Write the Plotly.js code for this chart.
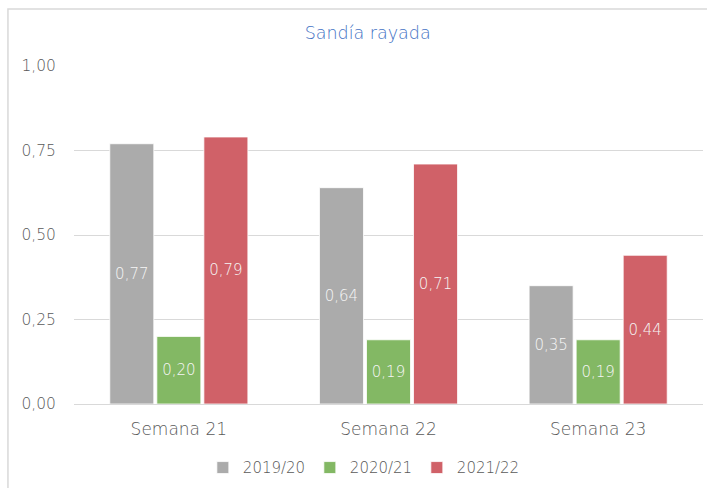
<!DOCTYPE html>
<html>
<head>
<meta charset="utf-8">
<script src="https://cdn.plot.ly/plotly-3.0.1.min.js"></script>
<style>
html,body{margin:0;padding:0;background:#fff;}
#chart{width:707px;height:488px;}
</style>
</head>
<body>
<div id="chart"></div>
<script>
const categories = ["Semana 21", "Semana 22", "Semana 23"];
const seriesNames = ["2019/20", "2020/21", "2021/22"];
const values2019 = [0.77, 0.64, 0.35];
const values2020 = [0.20, 0.19, 0.19];
const values2021 = [0.79, 0.71, 0.44];
const yTicks = [0, 0.25, 0.5, 0.75, 1.0];
const colors = ["#ABABAB", "#83B864", "#D06168"];

const FONT = "'DejaVu Sans', sans-serif";
const allValues = [values2019, values2020, values2021];

const traces = allValues.map((vals, i) => ({
  type: "bar",
  name: seriesNames[i],
  x: categories,
  y: vals,
  marker: {color: colors[i], line: {color: "#FFFFFF", width: 0.8}},
  text: vals.map(v => v.toFixed(2).replace(".", ",")),
  textposition: "inside",
  insidetextanchor: "middle",
  textangle: 0,
  textfont: {family: FONT, size: 15, color: "#F6F6F6", weight: 200},
  hoverinfo: "skip"
}));

const layout = {
  width: 707,
  height: 488,
  margin: {l: 74, r: 4, t: 66, b: 84},
  paper_bgcolor: "#FFFFFF",
  plot_bgcolor: "#FFFFFF",
  separators: ",.",
  font: {family: FONT, color: "#595959", weight: 200},
  title: {
    text: "Sandía rayada",
    font: {family: FONT, size: 17.5, color: "#4472C4", weight: 200},
    x: 0.52, xref: "container", xanchor: "center",
    y: 0.932, yref: "container", yanchor: "middle"
  },
  barmode: "group",
  bargap: 0.327,
  bargroupgap: 0.064,
  xaxis: {
    type: "category",
    showgrid: false,
    showline: true,
    linecolor: "#D9D9D9",
    linewidth: 1,
    ticks: "outside",
    ticklen: 10,
    tickcolor: "rgba(0,0,0,0)",
    tickfont: {family: FONT, size: 17, color: "#595959", weight: 200},
    fixedrange: true
  },
  yaxis: {
    range: [0, 1.0],
    tickvals: yTicks,
    tickformat: ".2f",
    showgrid: true,
    gridcolor: "#D9D9D9",
    gridwidth: 1,
    zeroline: false,
    showline: false,
    ticks: "outside",
    ticklen: 14,
    tickcolor: "rgba(0,0,0,0)",
    tickfont: {family: FONT, size: 15.5, color: "#595959", weight: 200},
    fixedrange: true
  },
  showlegend: true,
  legend: {
    orientation: "h",
    x: 0.46, xanchor: "center",
    y: -0.14, yanchor: "top",
    font: {family: FONT, size: 15, color: "#595959", weight: 200},
    itemwidth: 30,
    entrywidth: 62,
    entrywidthmode: "pixels",
    traceorder: "normal"
  },
  shapes: [{
    type: "rect",
    xref: "paper", yref: "paper",
    x0: -0.105, x1: 1.05, y0: -0.3, y1: 1.1686,
    line: {color: "#D9D9D9", width: 1.5},
    fillcolor: "rgba(0,0,0,0)",
    layer: "below"
  }]
};

Plotly.newPlot("chart", traces, layout, {displayModeBar: false, staticPlot: true});
</script>
</body>
</html>
